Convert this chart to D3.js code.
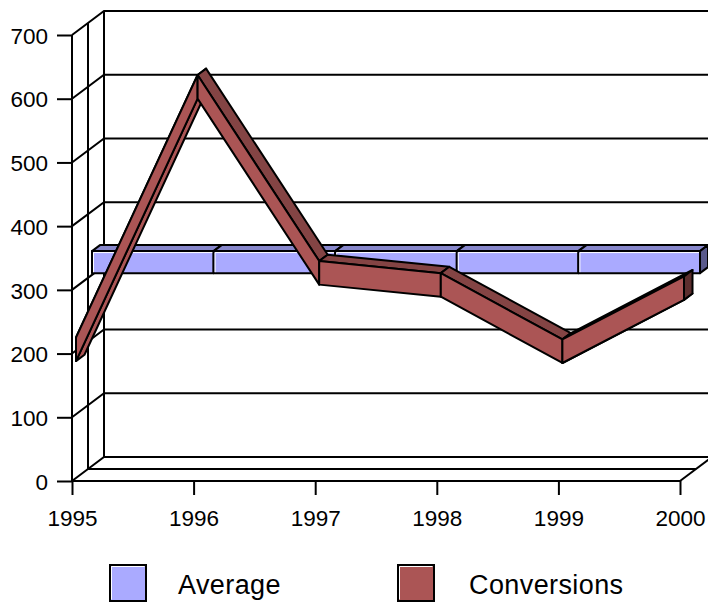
<!DOCTYPE html>
<html>
<head>
<meta charset="utf-8">
<script src="https://cdn.jsdelivr.net/npm/d3@7/dist/d3.min.js"></script>
<style>
  html, body { margin: 0; padding: 0; background: #fff; }
  svg { display: block; }
  text { font-family: "Liberation Sans", Arial, sans-serif; fill: #000; }
</style>
</head>
<body>
<div id="container"></div>
<script>
// 数据
const years = [1995, 1996, 1997, 1998, 1999, 2000];
const conversions = [202, 614, 322, 303, 199, 298];
const average = [320, 320, 320, 320, 320, 320];
const yTicks = [0, 100, 200, 300, 400, 500, 600, 700];
const legendNames = ["Average", "Conversions"];

const width = 708,
  height = 602;

const strokeW = 2;

// 颜色
const avgFront = "#aaaaff",
  avgTop = "#8787cb",
  avgSide = "#5a5a8c",
  convFront = "#ab5555",
  convTop = "#844444",
  convSide = "#5c2e2e";

const svg = d3
  .select("#container")
  .append("svg")
  .attr("width", width)
  .attr("height", height)
  .attr("viewBox", [0, 0, width, height]);

const xScale = d3.scaleLinear([1995, 2000], [72, 680]);
const yScale = d3.scaleLinear([0, 700], [481, 35]);

// 深度方向的偏移：z 为向右的像素数，向上的偏移为 0.75z
const wallDepth = 32;
const project = (year, value, z) => [xScale(year) + z, yScale(value) - z * 0.75];
const path = d3.line();
const closed = (pts) => path(pts) + "Z";

/**
 * 背景墙和地板
 */
const wall = svg
  .append("g")
  .attr("fill", "none")
  .attr("stroke", "#000")
  .attr("stroke-width", strokeW);

yTicks.forEach((t) => {
  wall
    .append("path")
    .attr("d", path([project(1995, t, 0), project(1995, t, wallDepth), [width + 4, yScale(t) - wallDepth * 0.75]]));
});

[0, wallDepth / 2, wallDepth].forEach((z) => {
  wall.append("path").attr("d", path([project(1995, 0, z), project(1995, 700, z)]));
});

wall.append("path").attr("d", path([project(1995, 0, wallDepth / 2), project(2000, 0, wallDepth / 2)]));
wall.append("path").attr("d", path([project(2000, 0, 0), project(2000, 0, wallDepth)]));

/**
 * 坐标轴
 */
const yAxis = d3
  .axisLeft(yScale)
  .tickValues(yTicks)
  .tickSize(15)
  .tickPadding(9)
  .tickFormat(d3.format("d"));

const xAxis = d3
  .axisBottom(xScale)
  .tickValues(years)
  .tickSize(14)
  .tickPadding(15)
  .tickFormat(d3.format("d"));

const yAxisG = svg.append("g").attr("transform", "translate(72,0)").call(yAxis);
const xAxisG = svg.append("g").attr("transform", "translate(0,481)").call(xAxis);

[yAxisG, xAxisG].forEach((g) => {
  g.call((s) => s.select(".domain").remove());
  g.selectAll(".tick line").attr("stroke", "#000").attr("stroke-width", strokeW);
  g.selectAll(".tick text").attr("font-size", 22.5).attr("font-family", null);
});
yAxisG.selectAll(".tick text").attr("y", 1);
svg.append("path").attr("d", path([project(1995, 0, 0), project(2000, 0, 0)])).attr("stroke", "#000").attr("stroke-width", strokeW);

/**
 * Average：一段段的长方体
 */
const avgGroup = svg.append("g").attr("stroke", "#000").attr("stroke-width", strokeW).attr("stroke-linejoin", "round");
const avgHalf = 17.3; // 数据单位下的半厚度
const avgZ0 = 20,
  avgZ1 = 28;

d3.pairs(d3.range(years.length)).forEach(([a, b]) => {
  const ya = years[a],
    yb = years[b];
  const hi0 = average[a] + avgHalf,
    hi1 = average[b] + avgHalf,
    lo0 = average[a] - avgHalf,
    lo1 = average[b] - avgHalf;

  avgGroup
    .append("path")
    .attr("fill", avgTop)
    .attr("d", closed([project(ya, hi0, avgZ0), project(ya, hi0, avgZ1), project(yb, hi1, avgZ1), project(yb, hi1, avgZ0)]));

  avgGroup
    .append("path")
    .attr("fill", avgFront)
    .attr("d", closed([project(ya, hi0, avgZ0), project(yb, hi1, avgZ0), project(yb, lo1, avgZ0), project(ya, lo0, avgZ0)]));

  // 左上角的白色高光
  const [lx, ty] = project(ya, hi0, avgZ0);
  const [rx] = project(yb, hi1, avgZ0);
  const [, by] = project(ya, lo0, avgZ0);
  avgGroup
    .append("path")
    .attr("fill", "none")
    .attr("stroke", "#fff")
    .attr("stroke-width", 1)
    .attr("d", path([[lx + 1.5, by - 1], [lx + 1.5, ty + 1.5], [rx - 1, ty + 1.5]]));
});

const avgLast = years.length - 1;
avgGroup
  .append("path")
  .attr("fill", avgSide)
  .attr(
    "d",
    closed([
      project(years[avgLast], average[avgLast] + avgHalf, avgZ0),
      project(years[avgLast], average[avgLast] + avgHalf, avgZ1),
      project(years[avgLast], average[avgLast] - avgHalf, avgZ1),
      project(years[avgLast], average[avgLast] - avgHalf, avgZ0)
    ])
  );

/**
 * Conversions：带状折线
 */
const convGroup = svg.append("g").attr("stroke", "#000").attr("stroke-width", strokeW).attr("stroke-linejoin", "round");
const convHalf = 18.5;
const convZ0 = 4,
  convZ1 = 12.5;

d3.pairs(d3.range(years.length)).forEach(([a, b]) => {
  const ya = years[a],
    yb = years[b];
  const va = conversions[a],
    vb = conversions[b];
  const rising = vb > va;

  // 下降段画顶面，上升段画底面和很窄的顶面
  convGroup
    .append("path")
    .attr("fill", rising ? "#000" : convTop)
    .attr(
      "d",
      closed([
        project(ya, va + convHalf, convZ0),
        project(ya, va + convHalf, convZ1),
        project(yb, vb + convHalf, convZ1),
        project(yb, vb + convHalf, convZ0)
      ])
    );

  if (rising) {
    convGroup
      .append("path")
      .attr("fill", convFront)
      .attr(
        "d",
        closed([
          project(ya, va - convHalf, convZ0),
          project(ya, va - convHalf, convZ1),
          project(yb, vb - convHalf, convZ1),
          project(yb, vb - convHalf, convZ0)
        ])
      );
  }
});

// 最右端的侧面
const convLast = years.length - 1;
convGroup
  .append("path")
  .attr("fill", convSide)
  .attr(
    "d",
    closed([
      project(years[convLast], conversions[convLast] + convHalf, convZ0),
      project(years[convLast], conversions[convLast] + convHalf, convZ1),
      project(years[convLast], conversions[convLast] - convHalf, convZ1),
      project(years[convLast], conversions[convLast] - convHalf, convZ0)
    ])
  );

// 正面放到最后画，盖住后面的边
d3.pairs(d3.range(years.length)).forEach(([a, b]) => {
  convGroup
    .append("path")
    .attr("fill", convFront)
    .attr(
      "d",
      closed([
        project(years[a], conversions[a] + convHalf, convZ0),
        project(years[b], conversions[b] + convHalf, convZ0),
        project(years[b], conversions[b] - convHalf, convZ0),
        project(years[a], conversions[a] - convHalf, convZ0)
      ])
    );
});

/**
 * 图例
 */
const legendX = d3.scaleOrdinal(legendNames, [110, 398]);
const legendFill = d3.scaleOrdinal(legendNames, [avgFront, convFront]);
const legend = svg
  .append("g")
  .selectAll("g")
  .data(legendNames)
  .join("g")
  .attr("transform", (d) => `translate(${legendX(d)},565)`);

legend
  .append("rect")
  .attr("width", 36)
  .attr("height", 36)
  .attr("fill", (d) => legendFill(d))
  .attr("stroke", "#000")
  .attr("stroke-width", strokeW);

legend
  .append("path")
  .attr("fill", "none")
  .attr("stroke", "#fff")
  .attr("stroke-width", 1)
  .attr("d", path([[1.5, 34.5], [1.5, 1.5], [34.5, 1.5]]));

legend
  .append("text")
  .attr("x", (d) => (d === "Average" ? 68 : 71))
  .attr("y", 29)
  .attr("font-size", 27)
  .attr("letter-spacing", 0.4)
  .text((d) => d);
</script>
</body>
</html>
